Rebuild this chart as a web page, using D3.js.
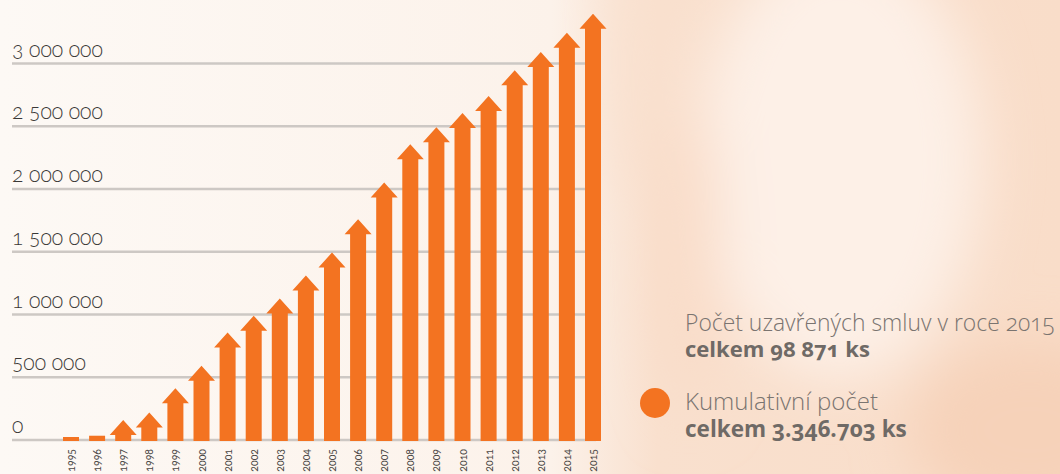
<!DOCTYPE html>
<html lang="cs">
<head>
<meta charset="UTF-8">
<title>Kumulativní počet smluv</title>
<script src="https://d3js.org/d3.v7.min.js"></script>
<style>
    html, body {
        margin: 0;
        padding: 0;
        background: #fdf8f4;
    }
    svg {
        display: block;
    }
    text {
        font-variant-numeric: oldstyle-nums;
        font-feature-settings: "onum" 1;
    }
    .ylabel {
        font-family: Lato, sans-serif;
        font-weight: 300;
        fill: #3a3836;
    }
    .xlabel {
        font-family: Lato, sans-serif;
        font-weight: 400;
        fill: #4a4745;
    }
    .legend {
        font-family: "Open Sans", sans-serif;
    }
</style>
</head>
<body>
<div id="chart"></div>
<script>
    // data (cumulative count at the arrow tip)
    const years = ["1995", "1996", "1997", "1998", "1999", "2000", "2001", "2002", "2003", "2004", "2005",
        "2006", "2007", "2008", "2009", "2010", "2011", "2012", "2013", "2014", "2015"];
    const cumulative = [24000, 34000, 159000, 220000, 412000, 592000, 857000, 990000, 1128000, 1311000, 1494000,
        1758000, 2052000, 2357000, 2492000, 2606000, 2741000, 2946000, 3092000, 3246000, 3397000];
    const yTicks = [0, 500000, 1000000, 1500000, 2000000, 2500000, 3000000];
    const yTickLabels = ["0", "500 000", "1 000 000", "1 500 000", "2 000 000", "2 500 000", "3 000 000"];
    const legendLines = [
        { text: "Počet uzavřených smluv v roce 2015", bold: false },
        { text: "celkem 98 871 ks", bold: true },
        { text: "Kumulativní počet", bold: false },
        { text: "celkem 3.346.703 ks", bold: true }
    ];

    const W = 1060, H = 474;
    const orange = "#f37321";

    const svg = d3.select("#chart")
        .append("svg")
        .attr("width", W)
        .attr("height", H);

    // soft photo-like background
    const defs = svg.append("defs");
    const bg = defs.append("linearGradient").attr("id", "bg").attr("x1", 0).attr("x2", 1).attr("y1", 0).attr("y2", 0);
    bg.append("stop").attr("offset", "0%").attr("stop-color", "#fdf9f5");
    bg.append("stop").attr("offset", "52%").attr("stop-color", "#fcf2ea");
    bg.append("stop").attr("offset", "62%").attr("stop-color", "#f9e0ce");
    bg.append("stop").attr("offset", "100%").attr("stop-color", "#f9ddc9");
    defs.append("filter").attr("id", "blur").append("feGaussianBlur").attr("stdDeviation", 28);

    svg.append("rect").attr("width", W).attr("height", H).attr("fill", "url(#bg)");
    const deco = svg.append("g").attr("filter", "url(#blur)");
    deco.append("ellipse").attr("cx", 840).attr("cy", 160).attr("rx", 140).attr("ry", 220).attr("fill", "#fdf0e7");
    deco.append("ellipse").attr("cx", 1030).attr("cy", 430).attr("rx", 120).attr("ry", 90).attr("fill", "#f6d2b9");
    deco.append("ellipse").attr("cx", 640).attr("cy", 60).attr("rx", 25).attr("ry", 140).attr("fill", "#f9e0ce");
    deco.append("ellipse").attr("cx", 690).attr("cy", 260).attr("rx", 30).attr("ry", 160).attr("fill", "#f9dcc8");

    const x = d3.scalePoint()
        .domain(years)
        .range([71, 593]);

    const y = d3.scaleLinear()
        .domain([0, 3000000])
        .range([440, 63.5]);

    // gridlines + y labels
    const grid = svg.append("g");
    grid.selectAll("line")
        .data(yTicks)
        .join("line")
        .attr("x1", 12)
        .attr("x2", 596)
        .attr("y1", d => y(d))
        .attr("y2", d => y(d))
        .attr("stroke", "#cdc8c4")
        .attr("stroke-width", 2.5);

    grid.selectAll("text")
        .data(yTicks)
        .join("text")
        .attr("class", "ylabel")
        .attr("x", 12)
        .attr("y", d => y(d) - 7)
        .attr("font-size", 21)
        .text((d, i) => yTickLabels[i]);

    // arrows
    const shaftW = 16, headW = 27, headH = 15;
    const base = y(0) + 1;

    function arrowPath(year, v) {
        const cx = x(year), tip = y(v);
        if (base - tip <= headH + 2) {
            return `M${cx - shaftW / 2},${base}V${tip}H${cx + shaftW / 2}V${base}Z`;
        }
        return `M${cx - shaftW / 2},${base}V${tip + headH}H${cx - headW / 2}L${cx},${tip}` +
            `L${cx + headW / 2},${tip + headH}H${cx + shaftW / 2}V${base}Z`;
    }

    svg.append("g")
        .selectAll("path")
        .data(years)
        .join("path")
        .attr("d", (d, i) => arrowPath(d, cumulative[i]))
        .attr("fill", orange);

    // x labels, rotated
    svg.append("g")
        .selectAll("text")
        .data(years)
        .join("text")
        .attr("class", "xlabel")
        .attr("font-size", 10.5)
        .attr("text-anchor", "end")
        .attr("transform", d => `translate(${x(d) + 4},449) rotate(-90)`)
        .text(d => d);

    // legend
    const legend = svg.append("g");
    const legendPos = [
        { y: 331, w: 370 },
        { y: 357, w: 185 },
        { y: 410, w: 193 },
        { y: 437, w: 222 }
    ];
    legendLines.forEach((l, i) => {
        const t = legend.append("text")
            .attr("class", "legend")
            .attr("x", 685)
            .attr("y", legendPos[i].y)
            .attr("font-weight", l.bold ? 700 : 300)
            .attr("fill", l.bold ? "#6f6a66" : "#7a7470")
            .attr("font-size", 20)
            .text(l.text);
        const w = t.node().getComputedTextLength();
        t.attr("font-size", 20 * legendPos[i].w / w);
    });

    legend.append("circle")
        .attr("cx", 655)
        .attr("cy", 403)
        .attr("r", 15)
        .attr("fill", orange);
</script>
</body>
</html>
